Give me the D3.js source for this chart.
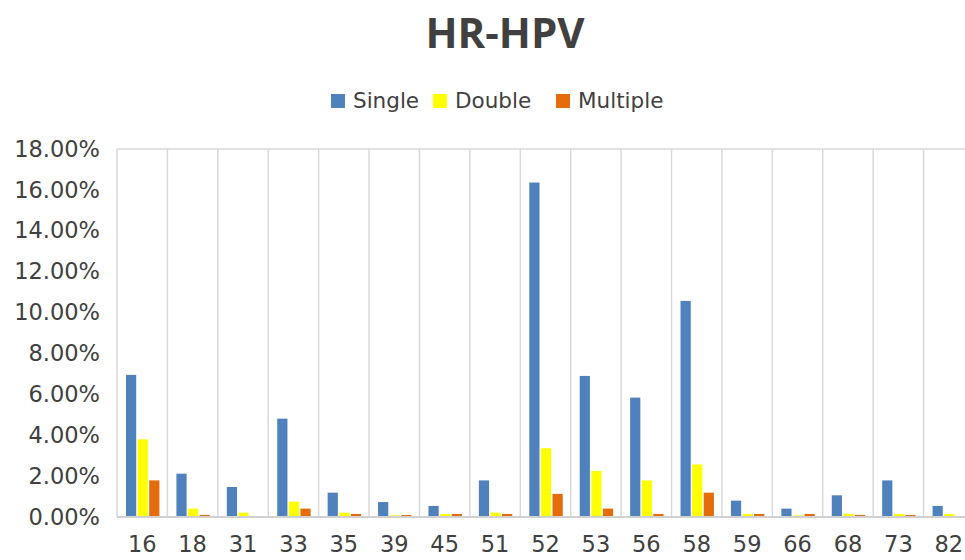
<!DOCTYPE html>
<html lang="en">
<head>
  <meta charset="UTF-8">
  <title>HR-HPV</title>
  <style>
    html, body {
      margin: 0;
      background: #fff;
      overflow: hidden;
    }
    svg {
      display: block;
      font-family: "DejaVu Sans", sans-serif;
    }
  </style>
</head>
<body>
  <script src="https://d3js.org/d3.v7.min.js"></script>
  <script>
    const types = ["16", "18", "31", "33", "35", "39", "45", "51", "52", "53", "56", "58", "59", "66", "68", "73", "82"];
    const seriesNames = ["Single", "Double", "Multiple"];
    const single   = [6.95, 2.12, 1.47, 4.81, 1.19, 0.73, 0.54, 1.79, 16.36, 6.90, 5.84, 10.57, 0.80, 0.41, 1.06, 1.79, 0.54];
    const double   = [3.80, 0.41, 0.21, 0.75, 0.21, 0.08, 0.15, 0.21, 3.36, 2.25, 1.79, 2.57, 0.15, 0.08, 0.15, 0.15, 0.15];
    const multiple = [1.79, 0.10, 0.00, 0.41, 0.15, 0.10, 0.15, 0.15, 1.13, 0.41, 0.15, 1.19, 0.15, 0.15, 0.10, 0.10, 0.00];
    const yTicks = [0, 2, 4, 6, 8, 10, 12, 14, 16, 18];
    const colors = ["#4f81bd", "#ffff00", "#e46c0a"];

    const W = 965, H = 560;
    const plotL = 117, plotR = 974, plotT = 149, plotB = 517;
    const labelFont = "\"DejaVu Sans\", sans-serif";

    const svg = d3.select("body").append("svg")
      .attr("width", W)
      .attr("height", H);

    const x = d3.scaleBand().domain(types).range([plotL, plotR]).padding(0);
    const y = d3.scaleLinear().domain([0, 18]).range([plotB, plotT]);
    const xs = d3.scaleBand().domain(seriesNames).range([9, x.bandwidth() - 8]).paddingInner(0.12);

    // title
    svg.append("text")
      .attr("x", 505).attr("y", 48)
      .attr("text-anchor", "middle")
      .attr("font-family", "\"Open Sans\", sans-serif")
      .attr("font-size", 42).attr("font-weight", "bold")
      .attr("fill", "#404040")
      .text("HR-HPV");

    // legend
    const legBox = [331, 433, 556];
    seriesNames.forEach((s, i) => {
      svg.append("rect").attr("x", legBox[i]).attr("y", 94).attr("width", 14).attr("height", 14).attr("fill", colors[i]);
      svg.append("text").attr("x", legBox[i] + 22).attr("y", 108)
        .attr("font-size", 21.5).attr("fill", "#404040").text(s);
    });

    // plot frame + category separators
    svg.append("line")
      .attr("x1", plotL).attr("x2", plotR).attr("y1", plotT).attr("y2", plotT)
      .attr("stroke", "#d9d9d9").attr("stroke-width", 1.5);
    types.forEach(t => {
      svg.append("line")
        .attr("x1", x(t)).attr("x2", x(t)).attr("y1", plotT).attr("y2", plotB)
        .attr("stroke", "#d9d9d9").attr("stroke-width", 1.5);
    });

    // bars
    const data = [single, double, multiple];
    data.forEach((vals, si) => {
      svg.append("g").selectAll("rect")
        .data(vals)
        .join("rect")
        .attr("x", (d, i) => x(types[i]) + xs(seriesNames[si]))
        .attr("y", d => y(d))
        .attr("width", xs.bandwidth())
        .attr("height", d => plotB - y(d))
        .attr("fill", colors[si]);
    });

    // baseline
    svg.append("line")
      .attr("x1", plotL).attr("x2", plotR).attr("y1", plotB).attr("y2", plotB)
      .attr("stroke", "#d0d0d0").attr("stroke-width", 2);

    // y axis labels
    const yAxis = d3.axisLeft(y).tickValues(yTicks).tickSize(0).tickPadding(0)
      .tickFormat(d => d.toFixed(2) + "%");
    const yg = svg.append("g").attr("transform", "translate(100,0)").call(yAxis);
    yg.select(".domain").remove();
    yg.selectAll("text").attr("font-size", 22.5).attr("fill", "#404040")
      .attr("font-family", labelFont);

    // x axis labels
    const xAxis = d3.axisBottom(x).tickSize(0).tickPadding(0);
    const xg = svg.append("g").attr("transform", "translate(0,536)").call(xAxis);
    xg.select(".domain").remove();
    xg.selectAll("text").attr("font-size", 22.5).attr("fill", "#404040")
      .attr("font-family", labelFont);
  </script>
</body>
</html>
